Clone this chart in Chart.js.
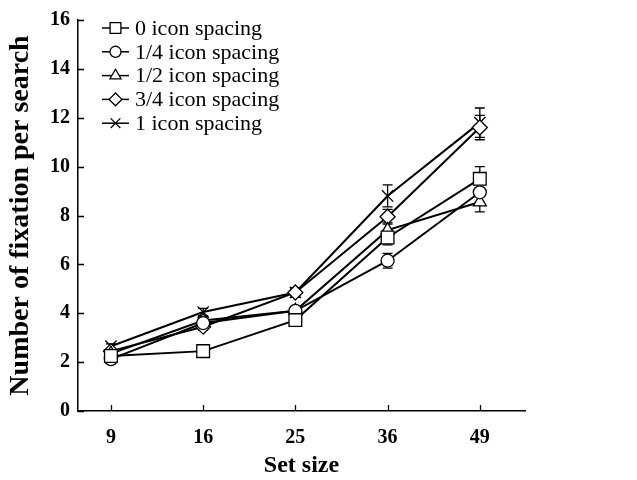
<!DOCTYPE html>
<html>
<head>
<meta charset="utf-8">
<script src="https://cdn.jsdelivr.net/npm/chart.js@4.4.0/dist/chart.umd.min.js"></script>
<style>
html,body{margin:0;padding:0;background:#fff;}
#wrap{width:637px;height:480px;position:relative;}
</style>
</head>
<body>
<div id="wrap"><canvas id="c" width="637" height="480"></canvas></div>
<script>
const categories = ['9', '16', '25', '36', '49'];
const seriesNames = ['0 icon spacing', '1/4 icon spacing', '1/2 icon spacing', '3/4 icon spacing', '1 icon spacing'];
const spacing0   = [2.25, 2.45, 3.72, 7.10, 9.50];
const spacing14  = [2.12, 3.60, 4.10, 6.15, 8.95];
const spacing12  = [2.35, 3.70, 4.10, 7.40, 8.55];
const spacing34  = [2.45, 3.45, 4.85, 7.95, 11.60];
const spacing1   = [2.65, 4.05, 4.85, 8.80, 11.80];
const err0  = [0.05, 0.10, 0.15, 0.30, 0.50];
const err14 = [0.05, 0.10, 0.10, 0.30, 0.40];
const err12 = [0.10, 0.15, 0.15, 0.30, 0.40];
const err34 = [0.10, 0.15, 0.15, 0.30, 0.50];
const err1  = [0.10, 0.15, 0.20, 0.45, 0.60];
const yTicks = [0, 2, 4, 6, 8, 10, 12, 14, 16];

const values = [spacing0, spacing14, spacing12, spacing34, spacing1];
const errors = [err0, err14, err12, err34, err1];
const styles = ['rect', 'circle', 'triangle', 'rectRot', 'crossRot'];
const radii = [9, 6.5, 7.5, 7.5, 8];

const datasets = values.map((v, i) => ({
  label: seriesNames[i],
  data: v.map((y, j) => ({x: j, y: y})),
  errs: errors[i],
  borderColor: '#000',
  borderWidth: 2,
  pointStyle: styles[i],
  pointRadius: radii[i],
  pointBorderWidth: 1.3,
  pointBorderColor: '#000',
  pointBackgroundColor: '#fff',
  pointHoverRadius: radii[i],
  tension: 0,
  fill: false
}));

const errorBars = {
  id: 'errorBars',
  beforeDatasetsDraw(chart) {
    const ctx = chart.ctx;
    const xs = chart.scales.x, ys = chart.scales.y;
    ctx.save();
    ctx.strokeStyle = '#000';
    ctx.lineWidth = 1.3;
    chart.data.datasets.forEach(ds => {
      ds.data.forEach((p, j) => {
        const e = ds.errs[j];
        const px = xs.getPixelForValue(p.x);
        const top = ys.getPixelForValue(p.y + e);
        const bot = ys.getPixelForValue(p.y - e);
        ctx.beginPath();
        ctx.moveTo(px, top); ctx.lineTo(px, bot);
        ctx.moveTo(px - 5, top); ctx.lineTo(px + 5, top);
        ctx.moveTo(px - 5, bot); ctx.lineTo(px + 5, bot);
        ctx.stroke();
      });
    });
    ctx.restore();
  }
};

const innerTicks = {
  id: 'innerTicks',
  afterDraw(chart) {
    const ctx = chart.ctx;
    const xs = chart.scales.x, ys = chart.scales.y;
    const a = chart.chartArea;
    ctx.save();
    ctx.strokeStyle = '#000';
    ctx.lineWidth = 1.3;
    ctx.beginPath();
    yTicks.forEach(v => {
      const py = Math.round(ys.getPixelForValue(v)) + 0.5;
      ctx.moveTo(a.left, py); ctx.lineTo(a.left + 6, py);
    });
    categories.forEach((c, j) => {
      const px = Math.round(xs.getPixelForValue(j)) + 0.5;
      ctx.moveTo(px, a.bottom); ctx.lineTo(px, a.bottom - 6);
    });
    ctx.stroke();
    ctx.restore();
  }
};

const customLegend = {
  id: 'customLegend',
  afterDraw(chart) {
    const ctx = chart.ctx;
    ctx.save();
    ctx.font = '22px "Liberation Serif", "Times New Roman", serif';
    ctx.textBaseline = 'middle';
    chart.data.datasets.forEach((ds, i) => {
      const y = 28 + i * 23.8;
      ctx.strokeStyle = '#000';
      ctx.lineWidth = 1.5;
      ctx.beginPath();
      ctx.moveTo(102, y); ctx.lineTo(129, y);
      ctx.stroke();
      ctx.fillStyle = '#fff';
      ctx.strokeStyle = '#000';
      ctx.lineWidth = 1.3;
      Chart.helpers.drawPoint(ctx, {
        pointStyle: ds.pointStyle,
        radius: ds.pointRadius * 0.85,
        rotation: 0,
        borderWidth: 1.3
      }, 115.5, y);
      ctx.fillStyle = '#000';
      ctx.fillText(ds.label, 135, y + 1);
    });
    ctx.restore();
  }
};

new Chart(document.getElementById('c'), {
  type: 'line',
  data: { datasets: datasets },
  plugins: [errorBars, innerTicks, customLegend],
  options: {
    responsive: false,
    animation: false,
    devicePixelRatio: 1,
    layout: { padding: { top: 12, right: 112, left: 0, bottom: 0 } },
    plugins: { legend: { display: false }, tooltip: { enabled: false } },
    scales: {
      x: {
        type: 'linear',
        min: -0.357,
        max: 4.49,
        afterFit(s) { s.height = 69; },
        afterBuildTicks(s) { s.ticks = categories.map((c, j) => ({ value: j })); },
        grid: { display: false, drawTicks: false },
        border: { display: true, color: '#000', width: 1.5 },
        ticks: {
          padding: 15,
          color: '#000',
          font: { family: '"Liberation Serif", "Times New Roman", serif', size: 20, weight: 'bold' },
          callback: (v) => categories[v]
        },
        title: {
          display: true,
          text: 'Set size',
          color: '#000',
          padding: { top: 0, bottom: 0 },
          font: { family: '"Liberation Serif", "Times New Roman", serif', size: 24, weight: 'bold' }
        }
      },
      y: {
        min: 0,
        max: 16,
        afterFit(s) { s.width = 78; },
        afterBuildTicks(s) { s.ticks = yTicks.map(v => ({ value: v })); },
        grid: { display: false, drawTicks: false },
        border: { display: true, color: '#000', width: 1.5 },
        ticks: {
          padding: 8,
          color: '#000',
          font: { family: '"Liberation Serif", "Times New Roman", serif', size: 20, weight: 'bold' }
        },
        title: {
          display: true,
          text: 'Number of fixation per search',
          color: '#000',
          padding: { top: 4, bottom: 0 },
          font: { family: '"Liberation Serif", "Times New Roman", serif', size: 28, weight: 'bold' }
        }
      }
    }
  }
});
</script>
</body>
</html>
